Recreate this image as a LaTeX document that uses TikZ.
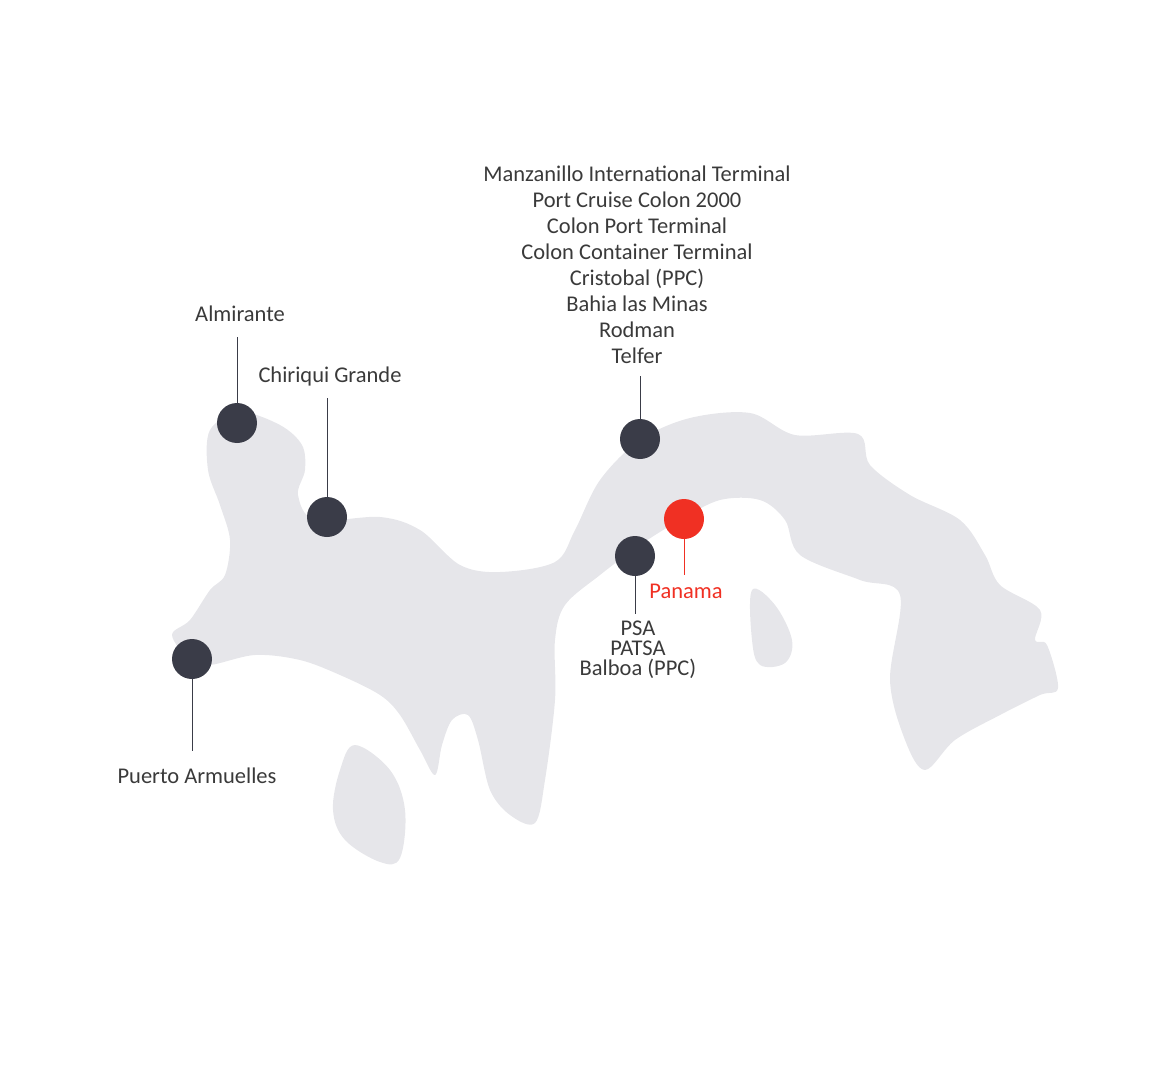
\documentclass[tikz,border=0pt]{standalone}
\usepackage{fontspec}
\setmainfont{Carlito}
\definecolor{land}{HTML}{E6E6EA}
\definecolor{dotc}{HTML}{3A3C48}
\definecolor{redc}{HTML}{F03023}
\definecolor{txt}{HTML}{3A3A3A}
\begin{document}
\begin{tikzpicture}[x=0.02cm,y=-0.02cm,
  pin/.style={circle,fill=dotc,minimum size=0.8cm,inner sep=0},
  lab/.style={text=txt,font=\fontsize{12.8}{14.8}\selectfont,inner sep=0,align=center},
  conn/.style={draw=dotc,line width=0.5pt}]
\useasboundingbox (0,0) rectangle (1151,1081);
\fill[land] plot[smooth cycle,tension=0.55] coordinates{
(210,430)(240,412)(280,425)(302,445)(305,470)(298,495)(315,520)(380,517)(420,530)(460,565)(500,572)(555,562)(575,530)(600,480)(640,440)(690,418)(750,413)(795,435)(858,434)(870,465)(910,495)(960,520)(985,555)(1000,585)(1040,610)(1035,640)(1047,645)(1058,688)(1040,695)(1000,715)(955,740)(925,770)(905,740)(890,680)(900,595)(860,580)(800,555)(785,520)(760,500)(720,500)(680,520)(640,545)(600,575)(565,605)(555,640)(555,700)(545,780)(535,823)(510,815)(490,790)(478,740)(468,715)(452,720)(442,745)(435,775)(420,750)(400,715)(380,695)(340,675)(300,660)(255,655)(210,665)(190,660)(172,635)(190,620)(210,590)(225,575)(230,540)(220,505)(208,470)};
\fill[land] plot[smooth cycle,tension=0.6] coordinates{(355,745)(390,770)(405,810)(400,858)(380,862)(345,840)(333,810)(340,770)};
\fill[land] plot[smooth cycle,tension=0.6] coordinates{(752,590)(775,605)(792,640)(785,663)(760,665)(752,640)};
% pins
\node[pin] (alm) at (237,423) {};
\node[pin] (chi) at (327,517) {};
\node[pin] (col) at (640,439) {};
\node[pin] (psa) at (635,556) {};
\node[pin,fill=redc] (pan) at (684,519) {};
\node[pin] (pue) at (192,659) {};
% labels
\node[lab] (almL) at (240,314) {Almirante};
\node[lab] (chiL) at (330,377) {Chiriqui Grande};
\node[lab,anchor=north] (colL) at (637,166) {Manzanillo International Terminal\\Port Cruise Colon 2000\\Colon Port Terminal\\Colon Container Terminal\\Cristobal (PPC)\\Bahia las Minas\\Rodman\\Telfer};
\node[lab,anchor=north,font=\fontsize{12.8}{11.3}\selectfont] (psaL) at (638,621) {PSA\\PATSA\\Balboa (PPC)};
\node[lab,text=redc] (panL) at (686,591) {Panama};
\node[lab] (pueL) at (197,776) {Puerto Armuelles};
% connectors
\coordinate (a1) at (237,337); \draw[conn] (alm) -- (a1);
\coordinate (c1) at (327,398); \draw[conn] (chi) -- (c1);
\coordinate (t1) at (640,376); \draw[conn] (col) -- (t1);
\coordinate (p1) at (635,614); \draw[conn] (psa) -- (p1);
\coordinate (r1) at (684,575); \draw[draw=redc,line width=0.5pt] (pan) -- (r1);
\coordinate (u1) at (192,751); \draw[conn] (pue) -- (u1);
\end{tikzpicture}
\end{document}
